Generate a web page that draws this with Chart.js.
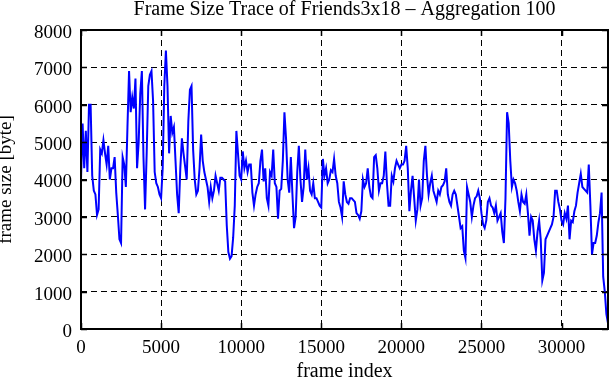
<!DOCTYPE html>
<html>
<head>
<meta charset="utf-8">
<script src="https://cdn.jsdelivr.net/npm/chart.js@4.4.1/dist/chart.umd.min.js"></script>
<style>
  html, body { margin: 0; padding: 0; background: #ffffff; }
  #c { display: block; }
</style>
</head>
<body>
<canvas id="c" width="611" height="380"></canvas>
<script>
// ---- data (frame size in bytes, one value per 100 frames) ----
const frameSize = [
  4000,5500,4300,5300,4200,6000,6000,4100,3700,3600,
  3050,3200,4800,4700,5050,4700,4400,4900,4000,4300,
  4300,4600,3650,3050,2400,2300,4600,4400,3800,5400,
  6900,5800,6200,5900,6700,4300,5000,6300,6900,4600,
  3200,4700,6500,6800,6900,6100,4200,3900,3800,3600,
  3500,
  4300,6500,7450,6500,4700,5700,5250,5400,4500,3600,
  3100,4300,5100,4700,4350,4000,5550,6400,6500,4800,
  4000,3600,3700,4300,5200,4500,4200,4000,3800,3400,
  3800,3500,3700,4100,3900,3700,4050,4050,4000,3950,
  2770,2060,1880,1950,2450,3300,5300,4700,4100,4000,
  4750,4300,4500,4200,4400,4400,3650,3300,3600,3800,
  3900,4500,4800,3950,4300,3500,3300,4200,4100,4800,
  3900,3800,2950,3700,3750,4500,5800,5100,4000,3650,
  4600,3600,2700,3000,4200,4900,4000,3400,3800,4800,
  4000,4300,3700,3600,3900,3500,3500,3400,3300,3250,
  4550,4100,4300,3900,4000,4250,4200,4550,4100,3900,
  3400,3250,3000,3950,3600,3400,3350,3500,3500,3450,
  3400,3100,3050,2950,3150,4000,3800,3900,4300,3800,
  3550,3500,4600,4650,4300,3700,3900,3900,4100,4750,
  3900,3300,3300,4100,3950,4300,4500,4400,4300,4400,
  4400,4500,4900,4300,3150,3700,4100,3500,2900,3200,
  4000,3300,3500,4500,4900,4100,3600,3900,4100,3700,
  3550,3400,3700,3600,3800,3850,3950,4300,3600,3400,
  3300,3600,3700,3600,3300,3000,2700,2750,2100,1900,
  3800,3600,3400,3000,3300,3500,3550,3700,3500,3100,
  2800,2700,2900,3400,3500,3300,3250,3100,3300,2900,
  3000,3100,2600,2300,3500,5800,5500,4500,3800,4000,
  3900,3700,3400,3150,3600,3400,3350,3600,3100,2500,
  3000,2900,2400,2100,2600,2900,2400,1300,1500,2400,
  2500,2600,2700,2800,3000,3700,3700,3400,3200,2900,
  2800,3100,2950,3300,2400,2900,2860,3150,3300,3650,
  3900,4150,3800,3750,3700,3650,4400,3300,2000,2300,
  2300,2500,2850,3100,3650,1400,1000,400,150
];
const aggregation = 100;
const frameIndex = frameSize.map((_, i) => i * aggregation);
const xTickValues = [0, 5000, 10000, 15000, 20000, 25000, 30000];
const yTickValues = [0, 1000, 2000, 3000, 4000, 5000, 6000, 7000, 8000];
const xMax = 32900;
const yMax = 8000;
const chartTitle = 'Frame Size Trace of Friends3x18 \u2013 Aggregation 100';
const xTitle = 'frame index';
const yTitle = 'frame size [byte]';

const serif = '"Liberation Serif", "Times New Roman", serif';

const frameBorder = {
  id: 'frameBorder',
  afterDraw(chart) {
    const {ctx, chartArea: a, scales: {x, y}} = chart;
    ctx.save();
    ctx.strokeStyle = '#000';
    ctx.setLineDash([]);
    ctx.lineWidth = 1.5;
    const tl = 6;
    ctx.beginPath();
    xTickValues.forEach(v => {
      const px = Math.round(x.getPixelForValue(v)) + 0.5;
      ctx.moveTo(px, a.bottom); ctx.lineTo(px, a.bottom - tl);
      ctx.moveTo(px, a.top); ctx.lineTo(px, a.top + tl);
    });
    yTickValues.forEach(v => {
      const py = Math.round(y.getPixelForValue(v)) + 0.5;
      ctx.moveTo(a.left, py); ctx.lineTo(a.left + tl, py);
      ctx.moveTo(a.right, py); ctx.lineTo(a.right - tl, py);
    });
    ctx.stroke();
    ctx.lineWidth = 2;
    ctx.strokeRect(a.left, a.top, a.right - a.left, a.bottom - a.top);
    ctx.restore();
  }
};

Chart.defaults.color = '#000';
new Chart(document.getElementById('c'), {
  type: 'line',
  data: {
    datasets: [{
      data: frameIndex.map((f, i) => ({x: f, y: frameSize[i]})),
      borderColor: '#0000ff',
      borderWidth: 2,
      pointRadius: 0,
      tension: 0,
      fill: false
    }]
  },
  options: {
    responsive: false,
    animation: false,
    devicePixelRatio: 1,
    layout: { padding: { left: 0, right: 3, top: 0, bottom: 0 } },
    plugins: {
      legend: { display: false },
      tooltip: { enabled: false },
      title: {
        display: true,
        fullSize: false,
        text: chartTitle,
        color: '#000',
        font: { family: serif, size: 20, weight: 'normal', lineHeight: 1 },
        padding: { top: 0, bottom: 10 }
      }
    },
    scales: {
      x: {
        type: 'linear',
        min: 0,
        max: xMax,
        afterBuildTicks: s => { s.ticks = xTickValues.map(v => ({value: v})); },
        afterFit: s => { s.height = 51; },
        ticks: {
          color: '#000',
          padding: 8,
          maxRotation: 0,
          autoSkip: false,
          font: { family: serif, size: 19 },
          callback: v => String(v)
        },
        grid: { color: '#000', lineWidth: 1, drawTicks: false },
        border: { display: false, dash: [6, 4] },
        title: {
          display: true,
          text: xTitle,
          color: '#000',
          font: { family: serif, size: 20, lineHeight: 1 },
          padding: { top: 0, bottom: -2 }
        }
      },
      y: {
        type: 'linear',
        min: 0,
        max: yMax,
        afterBuildTicks: s => { s.ticks = yTickValues.map(v => ({value: v})); },
        afterFit: s => { s.width = 81; },
        ticks: {
          color: '#000',
          padding: 9,
          labelOffset: 3,
          autoSkip: false,
          font: { family: serif, size: 19 },
          callback: v => String(v)
        },
        grid: { color: '#000', lineWidth: 1, drawTicks: false },
        border: { display: false, dash: [6, 4] },
        title: {
          display: true,
          text: yTitle,
          color: '#000',
          font: { family: serif, size: 19, lineHeight: 1 },
          padding: { top: -3.5, bottom: 0 }
        }
      }
    }
  },
  plugins: [frameBorder]
});
</script>
</body>
</html>
